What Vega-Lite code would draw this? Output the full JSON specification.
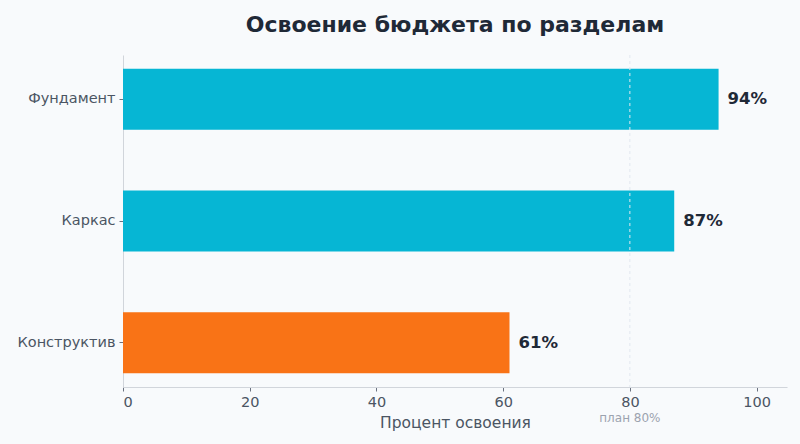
{
  "$schema": "https://vega.github.io/schema/vega-lite/v6.json",
  "autosize": "none",
  "width": 664,
  "height": 332,
  "padding": {"left": 123, "top": 55, "right": 13, "bottom": 57},
  "background": "#f8fafc",
  "title": {
    "text": "Освоение бюджета по разделам",
    "font": "DejaVu Sans",
    "fontSize": 22,
    "fontWeight": "bold",
    "color": "#1f2937",
    "anchor": "middle",
    "offset": 18
  },
  "data": {
    "values": [
      {"section": "Фундамент", "pct": 94, "status": "ok"},
      {"section": "Каркас", "pct": 87, "status": "ok"},
      {"section": "Конструктив", "pct": 61, "status": "low"}
    ]
  },
  "layer": [
    {
      "mark": {"type": "bar"},
      "encoding": {
        "y": {
          "field": "section",
          "type": "nominal",
          "sort": null,
          "title": null,
          "scale": {"paddingInner": 0.5, "paddingOuter": 0.114},
          "axis": {
            "labelFont": "DejaVu Sans",
            "labelFontSize": 14.5,
            "labelColor": "#4b5563",
            "labelPadding": 4,
            "tickColor": "#6b7280",
            "tickSize": 4,
            "domainColor": "#d1d5db"
          }
        },
        "x": {
          "field": "pct",
          "type": "quantitative",
          "title": "Процент освоения",
          "scale": {"domain": [0, 104.8], "nice": false},
          "axis": {
            "values": [0, 20, 40, 60, 80, 100],
            "grid": false,
            "labelFont": "DejaVu Sans",
            "labelFontSize": 14.5,
            "labelColor": "#4b5563",
            "labelPadding": 4,
            "titleFont": "DejaVu Sans",
            "titleFontSize": 15.5,
            "titleFontWeight": "normal",
            "titleColor": "#4b5563",
            "titlePadding": 7,
            "tickColor": "#6b7280",
            "tickSize": 4,
            "domainColor": "#d1d5db"
          }
        },
        "color": {
          "field": "status",
          "type": "nominal",
          "scale": {"domain": ["ok", "low"], "range": ["#06b6d4", "#f97316"]},
          "legend": null
        }
      }
    },
    {
      "transform": [{"calculate": "datum.pct + '%'", "as": "lbl"}],
      "mark": {
        "type": "text",
        "align": "left",
        "baseline": "middle",
        "dx": 9,
        "font": "DejaVu Sans",
        "fontSize": 16.5,
        "fontWeight": "bold",
        "color": "#1f2937"
      },
      "encoding": {
        "y": {"field": "section", "type": "nominal", "sort": null},
        "x": {"field": "pct", "type": "quantitative"},
        "text": {"field": "lbl"}
      }
    },
    {
      "data": {"values": [{"plan": 80, "note": "план 80%"}]},
      "layer": [
        {
          "mark": {"type": "rule", "color": "#e2e8f0", "strokeDash": [3, 3], "strokeWidth": 1},
          "encoding": {"x": {"field": "plan", "type": "quantitative"}}
        },
        {
          "mark": {
            "type": "text",
            "y": {"expr": "height"},
            "dy": 31,
            "font": "DejaVu Sans",
            "fontSize": 12,
            "color": "#9ca3af",
            "align": "center",
            "baseline": "middle"
          },
          "encoding": {
            "x": {"field": "plan", "type": "quantitative"},
            "text": {"field": "note"}
          }
        }
      ]
    }
  ],
  "config": {
    "view": {"stroke": null}
  }
}
